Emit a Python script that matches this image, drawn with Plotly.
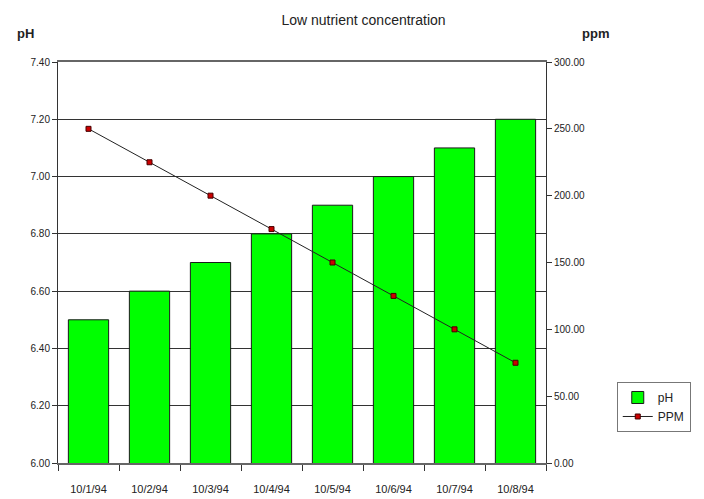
import plotly.graph_objects as go

dates = ["10/1/94", "10/2/94", "10/3/94", "10/4/94", "10/5/94", "10/6/94", "10/7/94", "10/8/94"]
ph = [6.5, 6.6, 6.7, 6.8, 6.9, 7.0, 7.1, 7.2]
ppm = [250, 225, 200, 175, 150, 125, 100, 75]
ph_ticks = [6.0, 6.2, 6.4, 6.6, 6.8, 7.0, 7.2, 7.4]
ppm_ticks = [0, 50, 100, 150, 200, 250, 300]

font = dict(family="Liberation Sans, Arial, sans-serif", size=10, color="#222")

fig = go.Figure()
fig.add_trace(go.Bar(
    x=dates, y=ph, name="pH",
    marker=dict(color="#00FF00", line=dict(color="#1a1a1a", width=1)),
))
fig.add_trace(go.Scatter(
    x=dates, y=ppm, name="PPM", yaxis="y2", mode="lines+markers",
    line=dict(color="#222", width=1),
    marker=dict(symbol="square", size=5, color="#cc0000", line=dict(color="#400", width=1)),
))

fig.update_layout(
    width=704, height=499,
    margin=dict(l=50, r=166, t=54, b=44),
    paper_bgcolor="white", plot_bgcolor="white",
    font=font,
    bargap=0.34,
    showlegend=True,
    title=dict(text="Low nutrient concentration", x=0.505, xanchor="center", y=0.976, yanchor="middle",
               font=dict(family="Liberation Sans, Arial, sans-serif", size=14, color="#222")),
    xaxis=dict(
        type="category", showline=True, linecolor="#666", linewidth=2, mirror=True,
        ticks="outside", tickson="boundaries", ticklen=6, tickcolor="#333",
        showgrid=False, tickfont=dict(size=11), zeroline=False, ticklabelstandoff=15,
    ),
    yaxis=dict(
        range=[6.0, 7.4], tickvals=ph_ticks, ticktext=[f"{v:.2f}" for v in ph_ticks],
        showgrid=True, gridcolor="#333", gridwidth=1,
        showline=True, linecolor="#333", linewidth=1,
        ticks="outside", ticklen=5, tickcolor="#333", zeroline=False,
    ),
    yaxis2=dict(
        range=[0, 300], tickvals=ppm_ticks, ticktext=[f"{v:.2f}" for v in ppm_ticks],
        overlaying="y", side="right", showgrid=False,
        showline=True, linecolor="#333", linewidth=1,
        ticks="outside", ticklen=5, tickcolor="#333", zeroline=False,
    ),
    legend=dict(
        x=1.145, y=0.202, xanchor="left", yanchor="top",
        bordercolor="#777", borderwidth=1, bgcolor="white",
        font=dict(size=12), itemwidth=30, tracegroupgap=0,
    ),
    annotations=[
        dict(text="<b>pH</b>", xref="paper", yref="paper", x=-0.088, y=1.07, xanchor="left", yanchor="middle",
             showarrow=False, font=dict(size=13, color="#222")),
        dict(text="<b>ppm</b>", xref="paper", yref="paper", x=1.07, y=1.07, xanchor="left", yanchor="middle",
             showarrow=False, font=dict(size=13, color="#222")),
    ],
)

fig.write_html("out.html")
